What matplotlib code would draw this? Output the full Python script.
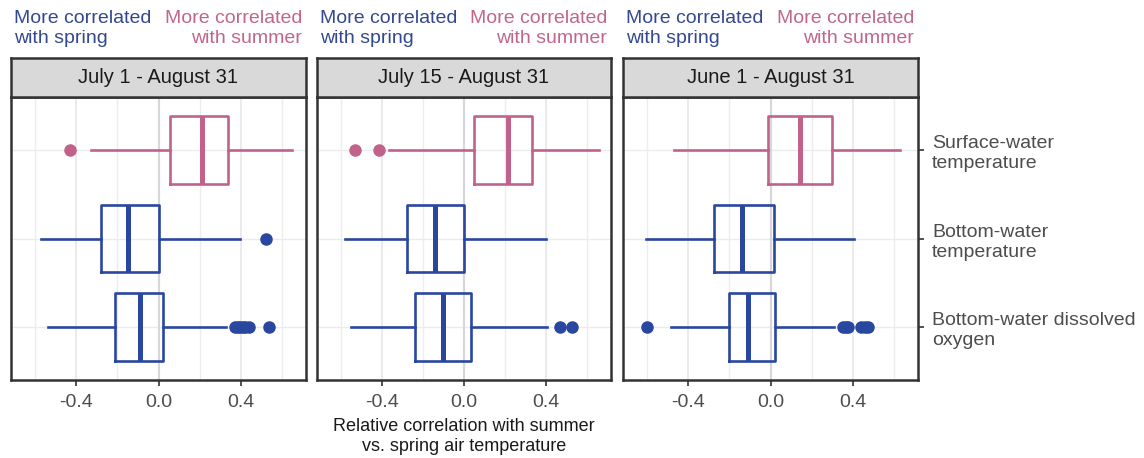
import matplotlib.pyplot as plt

plt.rcParams["font.family"] = ["Liberation Sans", "DejaVu Sans"]

# panel titles and rows (top to bottom)
periods = ["July 1 - August 31", "July 15 - August 31", "June 1 - August 31"]
variables = ["Surface-water\ntemperature", "Bottom-water\ntemperature",
             "Bottom-water dissolved\noxygen"]
row_pos = [3, 2, 1]
colors_by_var = ["#c2628a", "#2a47a0", "#2a47a0"]

# box stats: [whislo, q1, med, q3, whishi]
stats_jul1 = [
    [-0.327, 0.057, 0.212, 0.338, 0.648],
    [-0.570, -0.279, -0.147, 0.0, 0.397],
    [-0.534, -0.211, -0.092, 0.024, 0.329],
]
fliers_jul1 = [
    [-0.431],
    [0.521],
    [0.372, 0.385, 0.397, 0.41, 0.421, 0.44, 0.536],
]
stats_jul15 = [
    [-0.366, 0.047, 0.212, 0.332, 0.656],
    [-0.580, -0.275, -0.143, 0.0, 0.397],
    [-0.551, -0.236, -0.102, 0.034, 0.403],
]
fliers_jul15 = [
    [-0.531, -0.415],
    [],
    [0.468, 0.526],
]
stats_jun1 = [
    [-0.470, -0.011, 0.145, 0.299, 0.626],
    [-0.603, -0.272, -0.137, 0.018, 0.405],
    [-0.483, -0.203, -0.109, 0.020, 0.309],
]
fliers_jun1 = [
    [],
    [],
    [-0.597, 0.351, 0.365, 0.378, 0.441, 0.458, 0.472],
]
all_stats = [stats_jul1, stats_jul15, stats_jun1]
all_fliers = [fliers_jul1, fliers_jul15, fliers_jun1]

W, H = 1144, 458
fig = plt.figure(figsize=(W / 100, H / 100), dpi=100)

panel_lr = [(11, 306), (317, 611), (623, 918)]
strip_top, strip_bot, panel_bot = 58, 97, 380

for i, (x0, x1) in enumerate(panel_lr):
    ax = fig.add_axes([x0 / W, 1 - panel_bot / H, (x1 - x0) / W,
                       (panel_bot - strip_bot) / H])
    ax.set_xlim(-0.715, 0.715)
    ax.set_ylim(0.4, 3.6)
    ax.set_xticks([-0.4, 0.0, 0.4])
    ax.set_xticklabels(["-0.4", "0.0", "0.4"])
    ax.set_xticks([-0.6, -0.2, 0.2, 0.6], minor=True)
    ax.grid(axis="x", which="major", color="#e6e6e6", lw=1.1, zorder=0)
    ax.grid(axis="x", which="minor", color="#ededed", lw=1.0, zorder=0)
    for y in row_pos:
        ax.axhline(y, color="#ebebeb", lw=1.0, zorder=0)
    ax.axvline(0, color="#a6a6a6", lw=1.5, zorder=1)

    for j in range(3):
        s = all_stats[i][j]
        st = dict(whislo=s[0], q1=s[1], med=s[2], q3=s[3], whishi=s[4],
                  fliers=all_fliers[i][j])
        c = colors_by_var[j]
        ax.bxp([st], positions=[row_pos[j]], vert=False, widths=0.76,
               showcaps=False, patch_artist=False,
               boxprops=dict(color=c, lw=1.9),
               whiskerprops=dict(color=c, lw=1.9),
               medianprops=dict(color=c, lw=3.6, solid_capstyle="butt"),
               flierprops=dict(marker="o", markersize=8, markerfacecolor=c,
                               markeredgecolor=c),
               zorder=3)

    ax.tick_params(axis="x", which="major", length=4, width=1.2,
                   color="#333333", labelsize=14, labelcolor="#4d4d4d", pad=6)
    ax.tick_params(axis="x", which="minor", length=0)
    if i == 2:
        ax.set_yticks(row_pos)
        ax.set_yticklabels(variables)
        ax.yaxis.tick_right()
        ax.tick_params(axis="y", length=4, width=1.2, color="#333333",
                       labelsize=14, labelcolor="#4d4d4d", pad=6)
        for lab in ax.get_yticklabels():
            lab.set_linespacing(1.25)
    else:
        ax.set_yticks([])
    for sp in ax.spines.values():
        sp.set_color("#333333")
        sp.set_linewidth(1.8)

    # facet strip
    sax = fig.add_axes([x0 / W, 1 - strip_bot / H, (x1 - x0) / W,
                        (strip_bot - strip_top) / H])
    sax.set_facecolor("#d9d9d9")
    sax.set_xticks([])
    sax.set_yticks([])
    for sp in sax.spines.values():
        sp.set_color("#333333")
        sp.set_linewidth(1.8)
    sax.text(0.5, 0.5, periods[i], ha="center", va="center", fontsize=14.5,
             color="#1a1a1a", transform=sax.transAxes)

    # direction headers above each panel
    fig.text((x0 + 3) / W, 1 - 10 / H, "More correlated\nwith spring",
             ha="left", va="top", fontsize=14, color="#34488f",
             linespacing=1.2)
    fig.text((x1 - 4) / W, 1 - 10 / H, "More correlated\nwith summer",
             ha="right", va="top", fontsize=14, color="#c0668c",
             linespacing=1.2, multialignment="right")

fig.text(464 / W, 1 - 418 / H,
         "Relative correlation with summer\nvs. spring air temperature",
         ha="center", va="top", fontsize=13, color="#1a1a1a",
         linespacing=1.2)

fig.savefig("out.png", dpi=100)
